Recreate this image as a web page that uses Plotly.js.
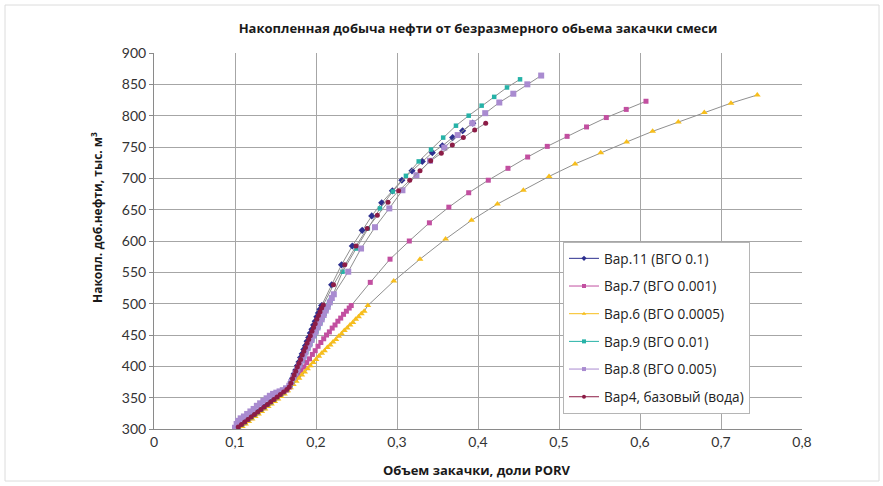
<!DOCTYPE html>
<html>
<head>
<meta charset="utf-8">
<script src="https://cdn.plot.ly/plotly-3.0.1.min.js"></script>
<style>html,body{margin:0;padding:0;background:#fff;}#chart{width:883px;height:486px;}</style>
</head>
<body>
<div id="chart"></div>
<script>
// Series names
const seriesNames = ["Вар.11 (ВГО 0.1)", "Вар.7 (ВГО 0.001)", "Вар.6 (ВГО 0.0005)", "Вар.9 (ВГО 0.01)", "Вар.8 (ВГО 0.005)", "Вар4, базовый (вода)"];

// Вар.11 (ВГО 0.1)
const var11X = [0.103,0.107,0.111,0.115,0.119,0.123,0.127,0.131,0.135,0.139,0.143,0.147,0.151,0.155,0.159,0.163,
  0.167,0.169,0.171,0.173,0.175,0.177,0.179,0.181,0.183,0.185,0.187,0.189,0.191,0.193,0.195,0.197,0.199,0.201,0.203,0.205,0.207,
  0.2193,0.2315,0.2448,0.257,0.2688,0.2811,0.2943,0.306,0.3185,0.3312,0.3436,0.356,0.3687,0.381,0.3935];
const var11Y = [302,306,310,314,318,322,326,330,334,338,342,346,350,354,358,362,
  368,375,381,388,394,401,407,414,420,427,433,440,446,453,459,466,472,479,485,491,497,
  530,562,592,617,640,661,680,697,712,727,741,752,765,776,788];

// Вар.7 (ВГО 0.001)
const var7X = [0.104,0.108,0.112,0.116,0.120,0.124,0.128,0.132,0.136,0.140,0.144,0.148,0.152,0.156,0.160,0.164,
  0.1675,0.171,0.1745,0.178,0.1815,0.185,0.1885,0.192,0.1955,0.199,0.2025,0.206,0.2095,0.213,0.2165,0.220,0.2235,0.227,0.2305,0.234,0.2375,0.241,0.2435,
  0.267,0.2914,0.3152,0.340,0.364,0.3885,0.4127,0.437,0.4613,0.4855,0.510,0.534,0.5584,0.583,0.6074];
const var7Y = [302,306,310,314,318,322,326,330,334,338,342,346,350,354,358,362,
  367,373,380,386,393,399,406,412,419,425,432,438,444,450,455,461,466,472,477,483,488,493,497,
  534,571,600,629,654,677,697,716,734,751,767,782,797,810,823];

// Вар.6 (ВГО 0.0005)
const var6X = [0.105,0.109,0.113,0.117,0.121,0.125,0.129,0.133,0.137,0.141,0.145,0.149,0.153,0.157,0.161,0.165,
  0.1685,0.172,0.1755,0.179,0.1825,0.186,0.1895,0.193,0.1965,0.200,0.2035,0.207,0.2105,0.214,0.2175,0.221,0.2245,0.228,0.2315,0.235,0.2385,0.242,0.2455,0.249,0.2525,0.256,0.2595,0.264,
  0.296,0.3284,0.360,0.392,0.424,0.456,0.4877,0.5198,0.5515,0.5835,0.6156,0.6473,0.6794,0.7123,0.7448];
const var6Y = [300,304,308,312,316,320,324,328,332,336,340,344,348,352,356,361,
  366,371,376,381,386,391,396,401,406,411,416,421,425,430,434,439,443,448,452,457,461,466,470,475,479,484,488,497,
  536,571,603,633,659,681,703,723,741,758,775,790,805,820,833];

// Вар.9 (ВГО 0.01)
const var9X = [0.104,0.108,0.112,0.116,0.120,0.124,0.128,0.132,0.136,0.140,0.144,0.148,0.152,0.156,0.160,0.164,
  0.168,0.1705,0.173,0.1755,0.178,0.1805,0.183,0.1855,0.188,0.1905,0.193,0.1955,0.198,0.2005,0.203,0.2055,0.208,0.2105,0.213,0.2155,0.218,
  0.2327,0.2494,0.264,0.279,0.2947,0.311,0.3268,0.342,0.357,0.3728,0.3885,0.4045,0.420,0.4358,0.4519];
const var9Y = [303,307,311,315,319,323,327,331,335,339,343,347,351,355,359,363,
  369,376,383,389,396,403,409,416,423,429,436,443,449,456,463,470,477,484,491,498,505,
  551,588,620,652,679,704,727,746,765,784,800,816,830,845,858];

// Вар.8 (ВГО 0.005)
const var8X = [0.100,0.102,0.104,0.107,0.111,0.115,0.119,0.123,0.127,0.131,0.135,0.139,0.143,0.147,0.151,0.155,0.159,0.163,0.167,
  0.1695,0.172,0.1745,0.177,0.1795,0.182,0.1845,0.187,0.1895,0.192,0.1945,0.197,0.1995,0.202,0.2045,0.207,0.2095,0.212,0.2145,0.217,0.2195,0.222,
  0.2398,0.2556,0.2728,0.2905,0.3067,0.324,0.3407,0.3584,0.3749,0.393,0.4089,0.4263,0.4436,0.4609,0.478];
const var8Y = [302,308,313,317,320,324,328,332,337,341,345,349,353,356,358,360,362,365,369,
  375,382,389,395,402,409,415,422,429,435,442,449,455,462,469,475,482,489,495,502,509,515,
  551,588,622,652,681,705,728,749,769,788,804,821,835,850,864];

// Вар4, базовый (вода)
const var4X = [0.104,0.108,0.112,0.116,0.120,0.124,0.128,0.132,0.136,0.140,0.144,0.148,0.152,0.156,0.160,0.164,
  0.167,0.169,0.171,0.173,0.175,0.177,0.179,0.181,0.183,0.185,0.187,0.189,0.191,0.193,0.195,0.197,0.199,0.201,0.203,0.205,0.207,0.209,
  0.2216,0.2355,0.2494,0.2633,0.2757,0.2889,0.302,0.3157,0.3284,0.3416,0.3547,0.3683,0.3819,0.3959,0.4095];
const var4Y = [303,307,311,315,319,323,327,331,335,339,343,347,351,355,359,363,
  367,373,380,386,392,399,405,411,418,424,430,437,443,449,456,462,468,475,481,487,493,498,
  530,562,592,620,641,662,680,697,712,728,740,753,765,777,788];

const xTickVals = [0,0.1,0.2,0.3,0.4,0.5,0.6,0.7,0.8];
const yTickVals = [300,350,400,450,500,550,600,650,700,750,800,850,900];

const allX = [var11X, var7X, var6X, var9X, var8X, var4X];
const allY = [var11Y, var7Y, var6Y, var9Y, var8Y, var4Y];
const colors = ['#2D2F8F', '#C24FA0', '#F7BE1C', '#26B2A7', '#A98BD0', '#8C1C46'];
const symbols = ['diamond', 'square', 'triangle-up', 'square', 'square', 'circle'];
const sizes = [5.5, 5, 6, 4.5, 6, 5];

const traces = [];
for (let i = 0; i < 6; i++) {
  traces.push({
    x: allX[i], y: allY[i], type: 'scatter', mode: 'lines+markers',
    name: seriesNames[i], showlegend: false,
    line: {color: '#8f8f8f', width: 1},
    marker: {color: colors[i], symbol: symbols[i], size: sizes[i], line: {width: 0}},
    hoverinfo: 'x+y'
  });
}
for (let i = 0; i < 6; i++) {
  traces.push({
    x: [null], y: [null], type: 'scatter', mode: 'lines+markers',
    name: seriesNames[i], showlegend: true, legendgroup: 'g' + i,
    line: {color: colors[i], width: 1},
    marker: {color: colors[i], symbol: symbols[i], size: 4, line: {width: 0}}
  });
}

const W = 883, H = 486, L = 154, R = 81, T = 53, B = 57;
const pw = W - L - R, ph = H - T - B;
const px = v => (v - L) / pw;
const py = v => (H - B - v) / ph;
const boldFont = '"Open Sans", sans-serif';

const layout = {
  width: W, height: H,
  margin: {l: L, r: R, t: T, b: B, pad: 0},
  paper_bgcolor: '#ffffff', plot_bgcolor: '#ffffff',
  separators: ', ',
  font: {family: 'Lato, "Open Sans", sans-serif', size: 14, color: '#333'},
  title: {text: 'Накопленная добыча нефти от безразмерного обьема закачки смеси',
    font: {family: boldFont, size: 13, color: '#1a1a1a', weight: 'bold'},
    xref: 'paper', x: 0.5, xanchor: 'center', yref: 'container', y: 1 - 28 / H, yanchor: 'middle'},
  xaxis: {range: [0, 0.8], tickvals: xTickVals, showgrid: true, gridcolor: '#a6a6a6', gridwidth: 1,
    zeroline: false, showline: true, linecolor: '#8a8a8a', linewidth: 1, ticks: '', ticklen: 0,
    tickfont: {family: 'Lato, "Open Sans", sans-serif', size: 14, color: '#333'}, fixedrange: true},
  yaxis: {range: [300, 900], tickvals: yTickVals, showgrid: true, gridcolor: '#a6a6a6', gridwidth: 1,
    zeroline: false, showline: true, linecolor: '#8a8a8a', linewidth: 1, ticks: 'outside', ticklen: 4, tickcolor: '#8a8a8a',
    tickfont: {family: 'Lato, "Open Sans", sans-serif', size: 14, color: '#333'}, fixedrange: true},
  legend: {x: px(563), y: py(242), xanchor: 'left', yanchor: 'top', bgcolor: '#ffffff', bordercolor: '#b5b5b5', borderwidth: 1,
    font: {family: '"Open Sans", sans-serif', size: 13.6, color: '#222'}, tracegroupgap: 7, itemwidth: 30},
  annotations: [
    {text: 'Объем закачки, доли PORV', xref: 'paper', yref: 'paper', x: px(477), y: py(470), xanchor: 'center', yanchor: 'middle',
      showarrow: false, font: {family: boldFont, size: 13, color: '#1a1a1a', weight: 'bold'}},
    {text: 'Накопл. доб.нефти, тыс. м<sup>3</sup>', xref: 'paper', yref: 'paper', x: px(97), y: py(218), xanchor: 'center', yanchor: 'middle',
      textangle: -90, showarrow: false, font: {family: boldFont, size: 12, color: '#1a1a1a', weight: 'bold'}}
  ],
  shapes: [
    {type: 'rect', xref: 'paper', yref: 'paper', x0: px(5), x1: px(879), y0: py(481), y1: py(5), line: {color: '#dcdcdc', width: 1}, layer: 'below'}
  ]
};

Plotly.newPlot('chart', traces, layout, {displayModeBar: false, staticPlot: true});
</script>
</body>
</html>
